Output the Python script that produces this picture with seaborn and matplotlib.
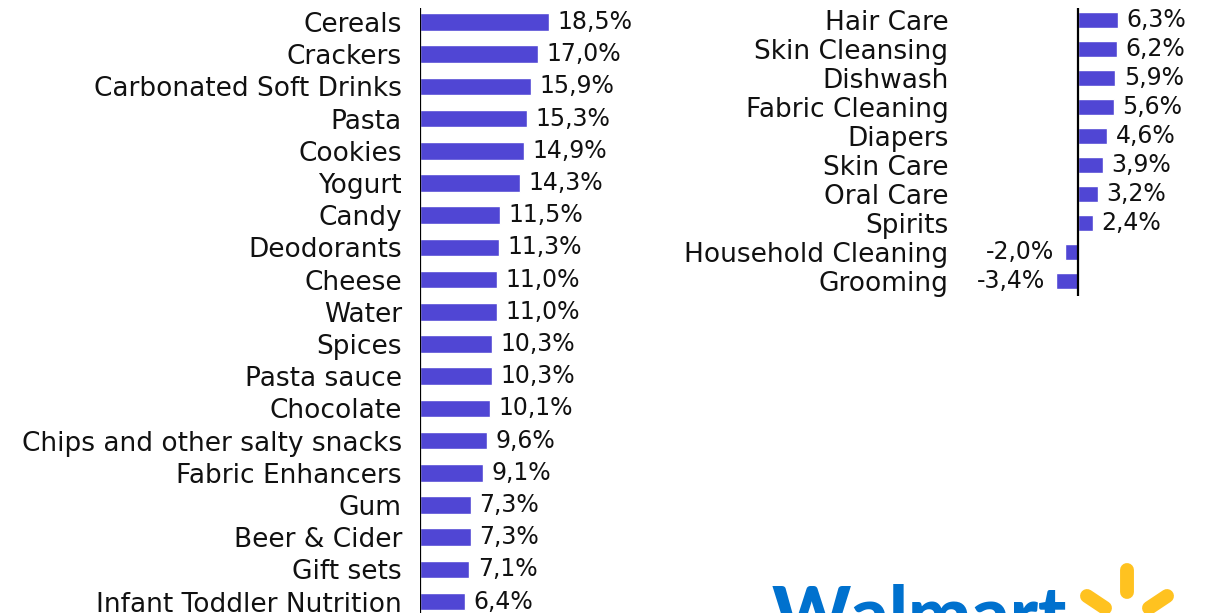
import matplotlib
matplotlib.use("Agg")
import matplotlib.pyplot as plt
import seaborn as sns
import pandas as pd

sns.set_theme(style="white")
plt.rcParams["font.family"] = ["DejaVu Sans"]

# Growth by category, left column
left_categories = [
    "Cereals", "Crackers", "Carbonated Soft Drinks", "Pasta", "Cookies",
    "Yogurt", "Candy", "Deodorants", "Cheese", "Water", "Spices",
    "Pasta sauce", "Chocolate", "Chips and other salty snacks",
    "Fabric Enhancers", "Gum", "Beer & Cider", "Gift sets",
    "Infant Toddler Nutrition",
]
left_values = [18.5, 17.0, 15.9, 15.3, 14.9, 14.3, 11.5, 11.3, 11.0, 11.0,
               10.3, 10.3, 10.1, 9.6, 9.1, 7.3, 7.3, 7.1, 6.4]

# Growth by category, right column
right_categories = [
    "Hair Care", "Skin Cleansing", "Dishwash", "Fabric Cleaning", "Diapers",
    "Skin Care", "Oral Care", "Spirits", "Household Cleaning", "Grooming",
]
right_values = [6.3, 6.2, 5.9, 5.6, 4.6, 3.9, 3.2, 2.4, -2.0, -3.4]

BAR = "#5046d4"
INK = "#111111"
W, H = 1211, 613
fig = plt.figure(figsize=(W / 100, H / 100), dpi=100)


def px_axes(x0, y_top, x1, y_bot):
    return fig.add_axes([x0 / W, 1 - y_bot / H, (x1 - x0) / W, (y_bot - y_top) / H])


def fmt(v):
    return f"{v:.1f}".replace(".", ",") + "%"


def draw_panel(ax, cats, vals, xlim, ylim, pad, label_fs=19, value_fs=17):
    df = pd.DataFrame({"category": cats, "value": vals})
    sns.barplot(data=df, x="value", y="category", orient="h", color=BAR,
                saturation=1, width=0.55, ax=ax)
    ax.set_xlim(*xlim)
    ax.set_ylim(*ylim)
    for s in ax.spines.values():
        s.set_visible(False)
    ax.axvline(0, color="black", lw=1.6, zorder=5)
    ax.set_xticks([])
    ax.set_xlabel("")
    ax.set_ylabel("")
    ax.tick_params(axis="y", length=0, pad=pad, labelsize=label_fs, labelcolor=INK)
    for i, v in enumerate(vals):
        off = 6 if v >= 0 else -8
        ax.annotate(fmt(v), xy=(v, i), xytext=(off, 0), textcoords="offset points",
                    ha="left" if v >= 0 else "right", va="center",
                    fontsize=value_fs, color=INK, annotation_clip=False)


# left panel: 0 at x=420px, ~6.97 px per unit, rows 32.2 px apart
axl = px_axes(420, 8, 420 + 20 * 6.97, 613)
draw_panel(axl, left_categories, left_values, (0, 20),
           ((613 - 22) / 32.2, -14 / 32.2), 13)

# right panel: 0 at x=1078px, ~6.35 px per unit, rows 29 px apart
r_left = 18.9
axr = px_axes(1078 - r_left * 6.35, 8, 1078 + 7 * 6.35, 296)
draw_panel(axr, right_categories, right_values, (-r_left, 7),
           ((296 - 20) / 29, -12 / 29), 7)

# Walmart wordmark and spark
fig.text(772 / W, 1 - 640 / H, "Walmart", fontsize=54, fontweight="black",
         family=["Lato", "DejaVu Sans"], color="#0071ce", ha="left", va="baseline")
cx, cy = 1127, 630
for (x0, y0, x1, y1) in [(cx, cy - 38, cx, cy - 60), (cx - 22, cy - 22, cx - 40, cy - 34),
                         (cx + 22, cy - 22, cx + 40, cy - 34)]:
    fig.add_artist(plt.Line2D([x0 / W, x1 / W], [1 - y0 / H, 1 - y1 / H],
                              transform=fig.transFigure, color="#ffc220",
                              lw=10, solid_capstyle="round"))

fig.savefig("out.png", dpi=100, facecolor="white")
